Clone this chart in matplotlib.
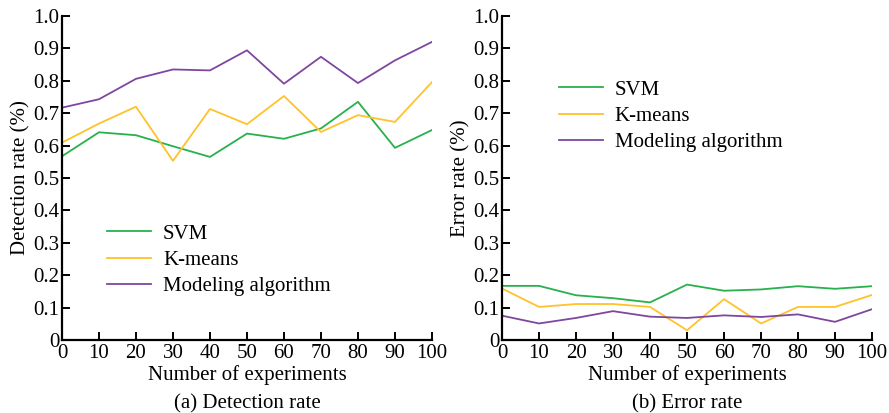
import numpy as np
import matplotlib
matplotlib.use("Agg")
import matplotlib.pyplot as plt

# --- Data ---
experiments = [0, 10, 20, 30, 40, 50, 60, 70, 80, 90, 100]

det_svm = [0.567, 0.641, 0.632, 0.598, 0.565, 0.637, 0.621, 0.653, 0.735, 0.593, 0.648]
det_kmeans = [0.609, 0.668, 0.720, 0.553, 0.713, 0.666, 0.753, 0.642, 0.694, 0.673, 0.796]
det_model = [0.717, 0.743, 0.806, 0.835, 0.832, 0.894, 0.791, 0.874, 0.793, 0.863, 0.920]

err_svm = [0.167, 0.167, 0.138, 0.129, 0.116, 0.171, 0.152, 0.156, 0.166, 0.158, 0.166]
err_kmeans = [0.159, 0.102, 0.111, 0.111, 0.102, 0.030, 0.126, 0.051, 0.102, 0.102, 0.139]
err_model = [0.075, 0.051, 0.068, 0.089, 0.072, 0.068, 0.076, 0.071, 0.079, 0.056, 0.095]

series_names = ["SVM", "K-means", "Modeling algorithm"]
colors = ["#27b14c", "#ffc22a", "#7f46a0"]
yticks = [0, 0.1, 0.2, 0.3, 0.4, 0.5, 0.6, 0.7, 0.8, 0.9, 1.0]
ytick_labels = ["0", "0.1", "0.2", "0.3", "0.4", "0.5", "0.6", "0.7", "0.8", "0.9", "1.0"]

plt.rcParams['font.family'] = ['Liberation Serif', 'DejaVu Serif']
plt.rcParams['font.size'] = 15

fig = plt.figure(figsize=(8.89, 4.13), dpi=100)
ax1 = fig.add_axes([0.0697, 0.1768, 0.4162, 0.7845])
ax2 = fig.add_axes([0.5647, 0.1768, 0.4162, 0.7845])


def style_axis(ax, ylabel, caption):
	ax.set_xlim(0, 100)
	ax.set_ylim(0, 1.0)
	ax.set_xticks(experiments)
	ax.set_yticks(yticks)
	ax.set_yticklabels(ytick_labels)
	ax.spines['top'].set_visible(False)
	ax.spines['right'].set_visible(False)
	for s in ['left', 'bottom']:
		ax.spines[s].set_linewidth(1.6)
	ax.tick_params(direction='in', length=6, width=1.4, labelsize=15, pad=3)
	ax.tick_params(axis='y', pad=2)
	ax.set_xlabel("Number of experiments", fontsize=15, labelpad=1.5)
	ax.set_ylabel(ylabel, fontsize=15, labelpad=2)
	ax.text(0.5, -0.196, caption, transform=ax.transAxes, ha='center', va='center', fontsize=15)


def add_legend(ax, x, y):
	ax.legend(loc='upper left', bbox_to_anchor=(x, y), frameon=False, fontsize=15,
		handlelength=2.1, handletextpad=0.58, labelspacing=0.32, borderaxespad=0, borderpad=0)


# (a) Detection rate
for vals, name, c in zip([det_svm, det_kmeans, det_model], series_names, colors):
	ax1.plot(experiments, vals, color=c, lw=1.3, label=name)
style_axis(ax1, "Detection rate (%)", "(a) Detection rate")
add_legend(ax1, 0.122, 0.358)

# (b) Error rate
for vals, name, c in zip([err_svm, err_kmeans, err_model], series_names, colors):
	ax2.plot(experiments, vals, color=c, lw=1.3, label=name)
style_axis(ax2, "Error rate (%)", "(b) Error rate")
add_legend(ax2, 0.154, 0.802)

fig.savefig("out.png", dpi=100)
